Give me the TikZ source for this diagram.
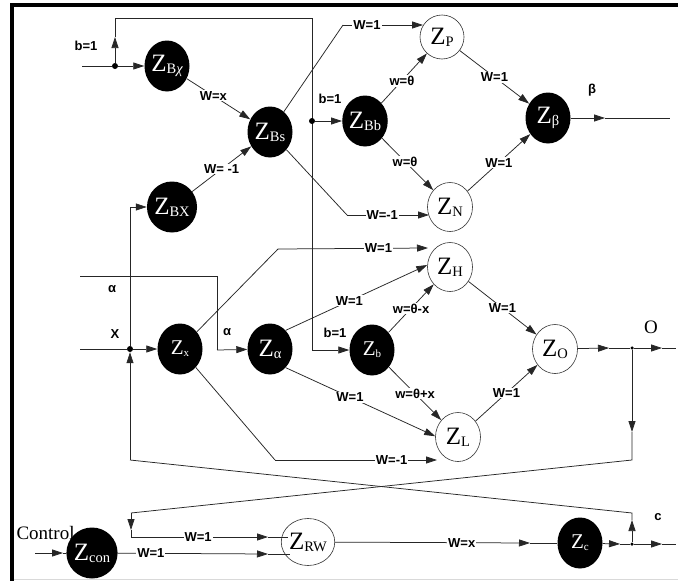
\documentclass[tikz,border=0pt]{standalone}
\usepackage{fontspec}
\setmainfont{Liberation Serif}
\newfontfamily\lblfont{Liberation Sans}
\usetikzlibrary{shapes.geometric,arrows.meta}
\newcommand{\zn}[1]{{\fontsize{25}{25}\selectfont Z}\raisebox{-2pt}{\fontsize{14.5}{14.5}\selectfont #1}}
\newcommand{\zsm}[1]{{\fontsize{21}{21}\selectfont Z}\raisebox{-2pt}{\fontsize{11}{11}\selectfont #1}}
\begin{document}
\begin{tikzpicture}[x=1pt,y=-1pt,
 wire/.style={draw=black!85, line width=0.75pt},
 arr/.style={wire,-{Triangle[length=11pt,width=7pt]}},
 blk/.style={ellipse, fill=black, text=white, minimum width=45pt, minimum height=51pt, inner sep=0pt},
 wht/.style={ellipse, draw=black!80, fill=white, line width=0.6pt, minimum width=45pt, minimum height=49pt, inner sep=0pt},
 lbl/.style={font=\lblfont\bfseries\fontsize{13}{13}\selectfont, inner sep=1pt, fill=white},
 tag/.style={font=\lblfont\bfseries\fontsize{13}{13}\selectfont, inner sep=1pt},
 dot/.style={circle, fill=black, inner sep=0pt, minimum size=6pt}
]
\fill[white] (0,0) rectangle (678,581);
\useasboundingbox (0,0) rectangle (678,581);
% frame
\draw[line width=4pt] (12,581) -- (12,5) -- (678,5);
\draw[black!15, line width=1pt] (14,579) -- (678,579);

% nodes
\node[blk] (ZBc) at (167,66) {\zn{B{\itshape χ}}};
\node[blk] (ZBs) at (270,132) {\zn{Bs}};
\node[blk] (ZBX) at (172,207) {\zn{BX}};
\node[blk] (ZBb) at (365,121) {\zn{Bb}};
\node[wht, minimum height=44pt, minimum width=44pt] (ZP) at (442,37) {\zn{P}};
\node[blk] (Zbeta) at (548,118) {\zn{β}};
\node[wht] (ZN) at (450,207) {\zn{N}};
\node[wht] (ZH) at (450,267) {\zn{H}};
\node[wht] (ZO) at (555,349) {\zn{O}};
\node[blk] (Zb) at (372,350) {\zsm{b}};
\node[blk] (Zx) at (180,349) {\zsm{x}};
\node[blk] (Za) at (270,349) {\zn{α}};
\node[wht] (ZL) at (458,437) {\zn{L}};
\node[blk] (Zcon) at (92,553) {\zn{con}};
\node[wht, minimum width=42pt, minimum height=47pt] (ZRW) at (308,542) {\zn{RW}};
\node[blk] (Zc) at (580,543) {\zsm{c}};

% top b=1 loop
\coordinate (inB) at (82,66);
\node[dot] (j1) at (115,66) {};
\draw[wire] (inB) -- (j1);
\draw[arr] (j1) -- (ZBc);
\coordinate (upA) at (115,37);
\draw[arr] (j1) -- (upA);
\coordinate (c1) at (115,18);
\coordinate (c2) at (312,18);
\coordinate (c3) at (312,350);
\draw[wire] (upA) -- (c1) -- (c2) -- (c3);
\draw[arr] (c3) -- (Zb);
\node[dot] (j2) at (312,121) {};
\draw[arr] (j2) -- (ZBb);
\node[tag] at (86,46) {b=1};
\node[tag] at (330,99) {b=1};
\node[tag] at (335,333) {b=1};

% into Z_Bs
\draw[arr] (ZBc) -- node[lbl,pos=0.42]{W=x} (ZBs);
\draw[arr] (ZBX) -- node[lbl,pos=0.5]{W= -1} (ZBs);

% Z_Bs -> Z_P and Z_N
\coordinate (cP) at (343,25);
\draw[wire] (ZBs) -- (cP);
\draw[arr] (cP) -- node[lbl,pos=0.3]{W=1} ([shift={(-19,-12)}]ZP.center);
\coordinate (cN) at (347,215);
\draw[wire] (ZBs) -- (cN);
\draw[arr] (cN) -- node[lbl,pos=0.43]{W=-1} ([shift={(-21,8)}]ZN.center);

% Z_Bb -> Z_P, Z_N ; -> Z_beta
\draw[arr] (ZBb) -- node[lbl,pos=0.45]{w=θ} (ZP);
\draw[arr] (ZBb) -- node[lbl,pos=0.45]{w=θ} (ZN);
\draw[arr] (ZP) -- node[lbl,pos=0.5]{W=1} (Zbeta);
\draw[arr] (ZN) -- node[lbl,pos=0.5]{W=1} (Zbeta);
\coordinate (bA) at (605,118);
\coordinate (bE) at (670,118);
\draw[arr] (Zbeta) -- (bA);
\draw[wire] (bA) -- (bE);
\node[tag] at (592,90) {β};

% inputs alpha and X
\coordinate (aIn) at (80,276);
\coordinate (a1) at (217,276);
\coordinate (a2) at (217,350);
\draw[wire] (aIn) -- (a1) -- (a2);
\draw[arr] (a2) -- (Za);
\node[tag] at (112,289) {α};
\node[tag] at (227,332) {α};
\coordinate (xIn) at (80,349);
\node[dot] (jx) at (130,349) {};
\draw[wire] (xIn) -- (jx);
\draw[arr] (jx) -- (Zx);
\node[tag] at (115,334) {X};
\coordinate (bx1) at (130,207);
\draw[wire] (jx) -- (bx1);
\draw[arr] (bx1) -- (ZBX);

% Z_x -> Z_H, Z_L
\coordinate (cH) at (278,249);
\draw[wire] (Zx) -- (cH);
\draw[arr] (cH) -- node[lbl,pos=0.67]{W=1} ([shift={(-22,-19)}]ZH.center);
\coordinate (cL) at (275,460);
\draw[wire] (Zx) -- (cL);
\draw[arr] (cL) -- node[lbl,pos=0.72]{W=-1} ([shift={(-21,23)}]ZL.center);

% Z_alpha -> Z_H, Z_L
\draw[arr] (Za.50) -- node[lbl,pos=0.45]{W=1} (ZH.175);
\draw[arr] (Za.-50) -- node[lbl,pos=0.43]{W=1} (ZL.178);

% Z_b -> Z_H, Z_L
\draw[arr] (Zb) -- node[lbl,pos=0.5]{w=θ-x} (ZH);
\draw[arr] (Zb) -- node[lbl,pos=0.5]{w=θ+x} (ZL);

% -> Z_O
\draw[arr] (ZH) -- node[lbl,pos=0.5]{W=1} (ZO);
\draw[arr] (ZL) -- node[lbl,pos=0.5]{W=1} (ZO);

% O output
\coordinate (oA) at (609,348);
\node[dot, minimum size=3.5pt] (jO) at (632,348) {};
\coordinate (oB) at (662,348);
\coordinate (oE) at (676,348);
\draw[arr] (ZO) -- (oA);
\draw[wire] (oA) -- (jO);
\draw[arr] (jO) -- (oB);
\draw[wire] (oB) -- (oE);
\node[font=\fontsize{19}{19}\selectfont] at (651,327) {O};

% O feedback to Z_RW
\coordinate (oD) at (632,432);
\coordinate (oC) at (632,460);
\coordinate (oF) at (131,513);
\coordinate (oG) at (131,530);
\coordinate (oH) at (131,537);
\coordinate (oI) at (268,537);
\draw[arr] (jO) -- (oD);
\draw[wire] (oD) -- (oC) -- (oF);
\draw[arr] (oF) -- (oG);
\draw[wire] (oG) -- (oH);
\draw[arr] (oH) -- node[lbl,pos=0.49]{W=1} (oI);
\draw[wire] (oI) -- ([shift={(-20.5,-5)}]ZRW.center);

% Control
\coordinate (ctl) at (35,553);
\coordinate (ctA) at (63,553);
\draw[arr] (ctl) -- (ctA);
\draw[wire] (ctA) -- (Zcon);
\node[anchor=west, font=\fontsize{19}{19}\selectfont] at (13,533) {Control};
\coordinate (rA) at (268,554);
\draw[arr] (Zcon) -- node[lbl,pos=0.22]{W=1} (rA);
\draw[wire] (rA) -- ([shift={(-18,12)}]ZRW.center);

% Z_RW -> Z_c
\coordinate (wA) at (530,543);
\draw[arr] (ZRW) -- node[lbl,pos=0.65]{W=x} (wA);
\draw[wire] (wA) -- (Zc);

% c output and feedback
\coordinate (cA) at (620,544);
\node[dot, minimum size=3.5pt] (jC) at (632,544) {};
\coordinate (cB) at (662,544);
\coordinate (cE) at (676,544);
\draw[arr] (Zc) -- (cA);
\draw[wire] (cA) -- (jC);
\draw[arr] (jC) -- (cB);
\draw[wire] (cB) -- (cE);
\node[tag] at (658,517) {c};
\coordinate (cU) at (632,520);
\coordinate (cT) at (632,513);
\coordinate (cL2) at (130,460);
\draw[arr] (jC) -- (cU);
\draw[wire] (cU) -- (cT) -- (cL2);
\draw[arr] (cL2) -- (jx);
\end{tikzpicture}
\end{document}
